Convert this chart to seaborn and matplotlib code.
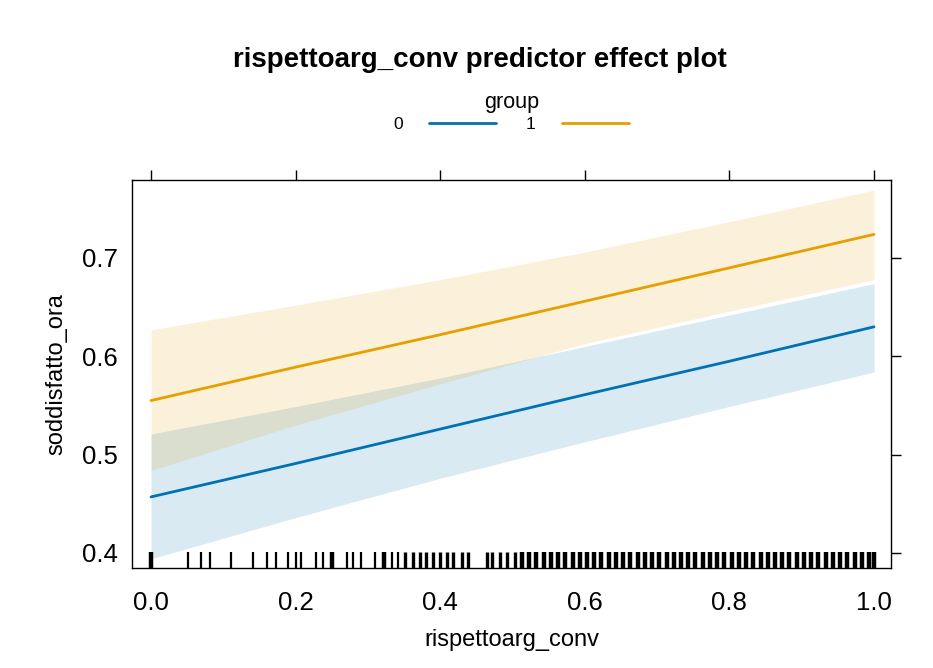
import numpy as np
import pandas as pd
import matplotlib
matplotlib.use("Agg")
import matplotlib.pyplot as plt
from matplotlib.lines import Line2D
import seaborn as sns

# Predictor grid and fitted effects (with 95% bands) for each group
x_grid = [0.0, 0.2, 0.4, 0.6, 0.8, 1.0]
fit_g0 = [0.457, 0.491, 0.526, 0.561, 0.595, 0.630]
lower_g0 = [0.394, 0.436, 0.476, 0.513, 0.549, 0.584]
upper_g0 = [0.521, 0.549, 0.578, 0.610, 0.642, 0.674]
fit_g1 = [0.555, 0.589, 0.622, 0.656, 0.690, 0.724]
lower_g1 = [0.484, 0.530, 0.572, 0.613, 0.646, 0.678]
upper_g1 = [0.627, 0.652, 0.678, 0.706, 0.737, 0.769]
groups = ["0", "1"]

# Observed predictor values (rug) and number of cases at each value
rug_x = [0.000, 0.051, 0.069, 0.082, 0.110, 0.141, 0.160, 0.173, 0.189, 0.200,
         0.208, 0.228, 0.238, 0.250, 0.271, 0.280, 0.290, 0.310, 0.322, 0.333,
         0.342, 0.351, 0.362, 0.372, 0.381, 0.390, 0.400, 0.409, 0.418, 0.430,
         0.438, 0.464, 0.471, 0.483, 0.492, 0.503, 0.513, 0.523, 0.533, 0.543,
         0.553, 0.563, 0.573, 0.583, 0.593, 0.603, 0.613, 0.623, 0.633, 0.643,
         0.653, 0.663, 0.673, 0.683, 0.693, 0.703, 0.713, 0.723, 0.733, 0.743,
         0.753, 0.763, 0.773, 0.783, 0.793, 0.803, 0.813, 0.823, 0.833, 0.843,
         0.853, 0.863, 0.873, 0.883, 0.893, 0.903, 0.913, 0.923, 0.933, 0.943,
         0.953, 0.963, 0.973, 0.983, 0.993, 1.000]
rug_n = [3, 1, 1, 1, 1, 1, 1, 1, 1, 1,
         1, 1, 1, 3, 1, 1, 1, 1, 3, 1,
         1, 2, 2, 2, 2, 2, 2, 2, 2, 2,
         2, 2, 2, 2, 2, 2, 3, 3, 3, 3,
         3, 3, 3, 3, 3, 3, 3, 3, 3, 3,
         3, 3, 3, 3, 3, 3, 3, 3, 3, 3,
         3, 3, 3, 3, 3, 3, 3, 3, 3, 3,
         3, 3, 3, 3, 3, 3, 3, 3, 3, 3,
         3, 3, 3, 3, 3, 3]

x_ticks = [0.0, 0.2, 0.4, 0.6, 0.8, 1.0]
y_ticks = [0.4, 0.5, 0.6, 0.7]

colors = {"0": "#0072B2", "1": "#E69F00"}

sns.set_style("white")
plt.rcParams["font.family"] = ["Liberation Sans", "DejaVu Sans"]
plt.rcParams["text.color"] = "black"
plt.rcParams["axes.labelcolor"] = "black"

fits = pd.DataFrame({
    "rispettoarg_conv": x_grid * 2,
    "soddisfatto_ora": fit_g0 + fit_g1,
    "group": [groups[0]] * len(x_grid) + [groups[1]] * len(x_grid),
})
bands = {"0": (lower_g0, upper_g0), "1": (lower_g1, upper_g1)}

fig = plt.figure(figsize=(9.33, 6.68), dpi=100)
ax = fig.add_axes([0.1415, 0.1497, 0.8135, 0.5808])

for g in groups:
    lo, hi = bands[g]
    ax.fill_between(x_grid, lo, hi, color=colors[g], alpha=0.15, linewidth=0)

sns.lineplot(data=fits, x="rispettoarg_conv", y="soddisfatto_ora", hue="group",
             palette=colors, linewidth=2.0, legend=False, ax=ax)

# Rug of observed predictor values
rug = pd.DataFrame({"x": rug_x, "n": rug_n})
for n_val, sub in rug.groupby("n"):
    sns.rugplot(x=sub["x"], height=0.042, color="black",
                linewidth=0.8 + 0.8 * n_val, ax=ax, expand_margins=False)

ax.set_xlim(-0.0263, 1.0235)
ax.set_ylim(0.3847, 0.7793)
ax.set_xticks(x_ticks)
ax.set_yticks(y_ticks)
ax.set_xticklabels([f"{v:.1f}" for v in x_ticks])
ax.set_yticklabels([f"{v:.1f}" for v in y_ticks])
ax.tick_params(axis="both", which="both", direction="out", length=7.5, width=1,
               colors="black", labelsize=18.5, top=True, right=True,
               labeltop=False, labelright=False)
ax.tick_params(axis="x", pad=9)
ax.tick_params(axis="y", pad=3)
for s in ax.spines.values():
    s.set_visible(True)
    s.set_color("black")
    s.set_linewidth(1.0)

ax.set_xlabel("rispettoarg_conv", fontsize=17, labelpad=10)
ax.set_ylabel("soddisfatto_ora", fontsize=17, labelpad=10)

fig.text(0.5145, 0.910, "rispettoarg_conv predictor effect plot",
         ha="center", va="center", fontsize=20, fontweight="bold")

handles = [Line2D([], [], color=colors[g], linewidth=2.0) for g in groups]
leg = fig.legend(handles, groups, title="group", ncol=2, markerfirst=False,
                 frameon=False, loc="center", bbox_to_anchor=(0.548, 0.832),
                 fontsize=12.5, title_fontsize=15.5, handlelength=3.9,
                 handletextpad=1.5, columnspacing=1.7, borderpad=0,
                 labelspacing=0.25)

fig.savefig("out.png", dpi=100, facecolor="white")
